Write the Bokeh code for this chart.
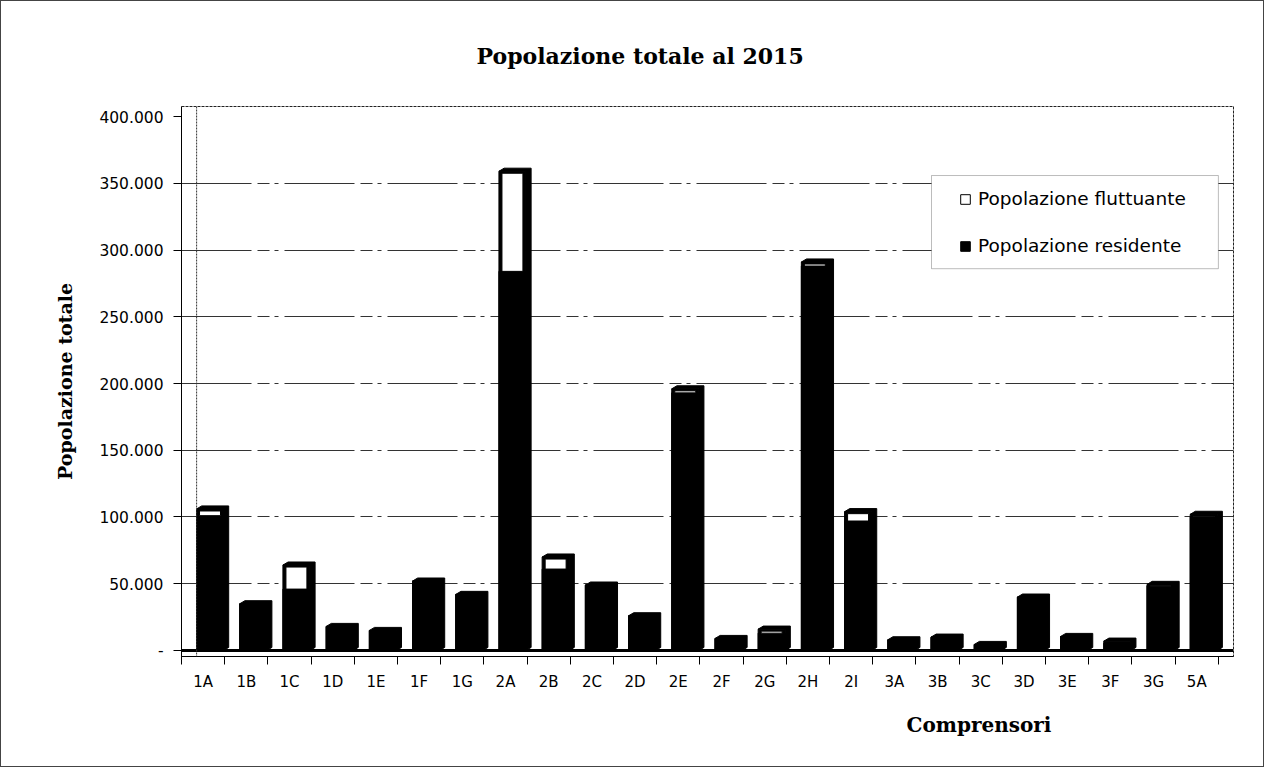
from bokeh.plotting import figure
from bokeh.models import Range1d, FixedTicker, Legend, LegendItem, Span, Title, BoxAnnotation
from bokeh.embed import file_html
from bokeh.resources import INLINE

categories = ["1A", "1B", "1C", "1D", "1E", "1F", "1G", "2A", "2B", "2C", "2D", "2E",
              "2F", "2G", "2H", "2I", "3A", "3B", "3C", "3D", "3E", "3F", "3G", "5A"]
residente = [101000, 35000, 46000, 18000, 15000, 52000, 42000, 284000, 61000, 49000, 26000, 193000,
             9000, 13000, 288000, 97000, 8000, 10000, 4500, 40000, 10500, 5500, 48500, 100000]
fluttuante = [5000, 0, 18000, 0, 0, 0, 0, 75000, 9000, 0, 0, 3000,
              0, 3000, 3000, 7000, 0, 0, 0, 0, 0, 1500, 1000, 2000]
y_ticks = [0, 50000, 100000, 150000, 200000, 250000, 300000, 350000, 400000]
y_tick_labels = ["-", "50.000", "100.000", "150.000", "200.000", "250.000", "300.000", "350.000", "400.000"]

title_text = "Popolazione totale al 2015"
y_title = "Popolazione totale"
x_title = "Comprensori"
legend_labels = ["Popolazione fluttuante", "Popolazione residente"]

n = len(categories)
p = figure(width=1264, height=767, output_backend="svg", toolbar_location=None,
           x_range=Range1d(0, n + 0.35), y_range=Range1d(-4500, 407500),
           min_border_left=180, min_border_right=32, min_border_top=105, min_border_bottom=112)
p.styles = {"border": "1px solid #444"}
p.outline_line_color = "#222"
p.outline_line_dash = "3 1"
p.background_fill_color = "white"

# back wall left edge
p.add_layout(Span(location=0.35, dimension="height", line_color="#333", line_width=1, line_dash="2 1"))

# axes
xt = [i + 0.5 for i in range(n)]
p.xaxis.ticker = FixedTicker(ticks=xt, minor_ticks=list(range(n + 1)))
p.xaxis.major_label_overrides = {x: c for x, c in zip(xt, categories)}
p.xaxis.major_tick_out = 8
p.xaxis.major_tick_in = 0
p.xaxis.major_tick_line_color = None
p.xaxis.minor_tick_out = 8
p.xaxis.minor_tick_in = 0
p.xaxis.minor_tick_line_color = "black"
p.xaxis.axis_line_color = "black"
p.xaxis.major_label_standoff = 8
p.xaxis.major_label_text_font = "DejaVu Sans"
p.xaxis.major_label_text_font_size = "15px"
p.xaxis.major_label_text_color = "black"

p.yaxis.ticker = FixedTicker(ticks=y_ticks, minor_ticks=[])
p.yaxis.major_label_overrides = {t: l for t, l in zip(y_ticks, y_tick_labels)}
p.yaxis.major_tick_out = 8
p.yaxis.major_tick_in = 0
p.yaxis.major_tick_line_color = "black"
p.yaxis.axis_line_color = "black"
p.yaxis.major_label_standoff = 10
p.yaxis.major_label_text_font = "DejaVu Sans"
p.yaxis.major_label_text_font_size = "15.5px"
p.yaxis.major_label_text_color = "black"
p.yaxis.axis_label = y_title
p.yaxis.axis_label_text_font = "DejaVu Serif"
p.yaxis.axis_label_text_font_style = "bold"
p.yaxis.axis_label_text_font_size = "19px"
p.yaxis.axis_label_text_color = "black"
p.yaxis.axis_label_standoff = 20

p.xgrid.grid_line_color = None
p.ygrid.ticker = FixedTicker(ticks=y_ticks[1:-1])
p.ygrid.grid_line_color = "#333"
p.ygrid.grid_line_width = 1
p.ygrid.grid_line_dash = "70 6 12 5 4 6"

# floor
p.segment(x0=[0.0], y0=[0], x1=[n + 0.35], y1=[0], line_color="black", line_width=3)

# bars (front face + 3D cap/side)
off = 0.16
w = 0.625
dx = 0.12
dy = 2300
centers = [i + 0.5 + off for i in range(n)]
totals = [r + f for r, f in zip(residente, fluttuante)]

xs, ys = [], []
for c, t in zip(centers, totals):
    x0, x1 = c - w / 2, c + w / 2
    xs.append([x1, x1 + dx, x1 + dx, x0 + dx, x0, x1])
    ys.append([0, dy, t + dy, t + dy, t, t])
p.patches(xs=xs, ys=ys, fill_color="black", line_color="black", line_width=1)

r_res = p.vbar(x=centers, top=residente, bottom=0, width=w, fill_color="black", line_color="black")
p.vbar(x=centers, top=totals, bottom=0, width=w, fill_color="black", line_color="black")

fc = [c for c, f in zip(centers, fluttuante) if f > 0]
fb = [r for r, f in zip(residente, fluttuante) if f > 0]
ft = [r + f - 1500 for r, f in zip(residente, fluttuante) if f > 0]
r_flu = p.vbar(x=fc, top=ft, bottom=fb, width=w - 0.14, fill_color="white", line_color="black", line_width=1)

# legend frame (white box hiding gridlines)
p.add_layout(BoxAnnotation(left=17.36, right=24.0, bottom=286000, top=355800,
                           fill_color="white", fill_alpha=1.0, line_color="#222", line_width=1))

legend = Legend(items=[LegendItem(label=legend_labels[0], renderers=[r_flu]),
                       LegendItem(label=legend_labels[1], renderers=[r_res])],
                location=(778, 400), orientation="vertical",
                border_line_color=None, background_fill_alpha=0.0,
                padding=14, spacing=26,
                glyph_width=12, glyph_height=12, label_height=20, label_standoff=7,
                label_text_font="DejaVu Sans", label_text_font_size="18.5px", label_text_color="black")
p.add_layout(legend, "center")

# titles
p.add_layout(Title(text=title_text, align="left", offset=295, standoff=76,
                   text_font="DejaVu Serif", text_font_style="bold", text_font_size="22px",
                   text_color="black"), "above")
p.add_layout(Title(text=x_title, align="left", offset=725, standoff=34,
                   text_font="DejaVu Serif", text_font_style="bold", text_font_size="20px",
                   text_color="black"), "below")

open("out.html", "w").write(file_html(p, INLINE))
